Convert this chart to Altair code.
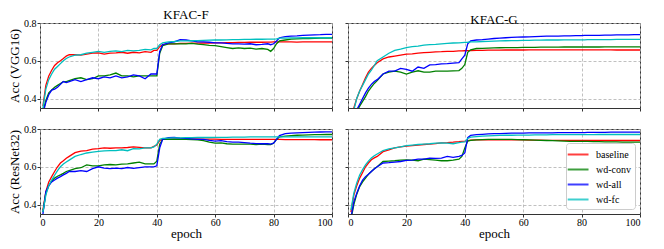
import altair as alt
import pandas as pd

# shared epoch grid
epochs = ([1, 2, 3, 4, 5, 6, 7, 8, 9, 10]
          + [12, 14, 16, 18, 20, 22, 24, 26, 28, 30, 32, 34, 36, 38]
          + [39, 40, 41]
          + [42, 44, 46, 48, 50, 52, 54, 56, 58, 60, 62, 64, 66, 68, 70, 72, 74, 76, 78]
          + [79, 80, 81]
          + [82, 84, 86, 88, 90, 92, 94, 96, 98, 100])

series_names = ["baseline", "wd-conv", "wd-all", "wd-fc"]
series_colors = ["#ff0000", "#008000", "#0000ff", "#00bfbf"]
x_ticks = [0, 20, 40, 60, 80, 100]
y_ticks = [0.4, 0.6, 0.8]

# ---- KFAC-F / VGG16 ----
f_vgg_baseline = ([0.36, 0.47, 0.52, 0.55, 0.575, 0.59, 0.60, 0.612, 0.625, 0.632]
                  + [0.632, 0.63, 0.635, 0.64, 0.642, 0.635, 0.64, 0.642, 0.645, 0.64, 0.645, 0.642, 0.648, 0.645]
                  + [0.655, 0.655, 0.675]
                  + [0.685, 0.69, 0.69, 0.692, 0.692, 0.693, 0.693, 0.694, 0.694, 0.695, 0.695, 0.696, 0.696, 0.697, 0.697, 0.698, 0.698, 0.698, 0.699]
                  + [0.699, 0.70, 0.70]
                  + [0.70, 0.70, 0.70, 0.699, 0.70, 0.70, 0.70, 0.70, 0.70, 0.70])
f_vgg_conv = ([0.33, 0.39, 0.43, 0.445, 0.46, 0.47, 0.48, 0.49, 0.49, 0.495]
              + [0.505, 0.51, 0.50, 0.505, 0.52, 0.52, 0.525, 0.535, 0.52, 0.52, 0.515, 0.52, 0.52, 0.52]
              + [0.52, 0.52, 0.64]
              + [0.68, 0.69, 0.69, 0.69, 0.69, 0.692, 0.688, 0.685, 0.682, 0.68, 0.675, 0.67, 0.665, 0.668, 0.665, 0.667, 0.662, 0.665, 0.66]
              + [0.65, 0.665, 0.69]
              + [0.705, 0.71, 0.715, 0.716, 0.717, 0.718, 0.719, 0.72, 0.72, 0.72])
f_vgg_all = ([0.32, 0.38, 0.42, 0.445, 0.45, 0.46, 0.475, 0.49, 0.485, 0.49]
             + [0.50, 0.49, 0.50, 0.51, 0.505, 0.515, 0.51, 0.52, 0.51, 0.515, 0.525, 0.52, 0.505, 0.53]
             + [0.53, 0.53, 0.65]
             + [0.685, 0.695, 0.70, 0.712, 0.71, 0.705, 0.70, 0.70, 0.698, 0.695, 0.695, 0.692, 0.69, 0.69, 0.688, 0.69, 0.685, 0.687, 0.69]
             + [0.685, 0.69, 0.705]
             + [0.722, 0.728, 0.73, 0.732, 0.735, 0.736, 0.737, 0.738, 0.74, 0.74])
f_vgg_fc = ([0.35, 0.45, 0.50, 0.53, 0.555, 0.57, 0.585, 0.60, 0.612, 0.62]
            + [0.63, 0.632, 0.64, 0.645, 0.65, 0.645, 0.65, 0.652, 0.648, 0.655, 0.652, 0.655, 0.66, 0.658]
            + [0.665, 0.665, 0.685]
            + [0.695, 0.70, 0.702, 0.705, 0.705, 0.706, 0.707, 0.708, 0.709, 0.71, 0.71, 0.711, 0.712, 0.712, 0.713, 0.713, 0.714, 0.714, 0.715]
            + [0.715, 0.715, 0.716]
            + [0.72, 0.72, 0.721, 0.721, 0.722, 0.722, 0.722, 0.722, 0.722, 0.722])

# ---- KFAC-G / VGG16 ----
g_vgg_baseline = ([0.30, 0.35, 0.40, 0.44, 0.475, 0.51, 0.54, 0.56, 0.575, 0.59]
                  + [0.61, 0.62, 0.625, 0.63, 0.635, 0.637, 0.64, 0.643, 0.645, 0.647, 0.648, 0.65, 0.65, 0.652]
                  + [0.652, 0.653, 0.654]
                  + [0.654, 0.655, 0.655, 0.656, 0.656, 0.656, 0.657, 0.657, 0.657, 0.657, 0.658, 0.658, 0.658, 0.658, 0.658, 0.658, 0.658, 0.658, 0.658]
                  + [0.658, 0.658, 0.658]
                  + [0.658, 0.658, 0.658, 0.658, 0.658, 0.657, 0.657, 0.657, 0.657, 0.657])
g_vgg_conv = ([0.27, 0.30, 0.33, 0.36, 0.385, 0.41, 0.44, 0.46, 0.48, 0.495]
              + [0.53, 0.54, 0.545, 0.54, 0.53, 0.54, 0.547, 0.54, 0.54, 0.545, 0.545, 0.545, 0.547, 0.548]
              + [0.56, 0.58, 0.645]
              + [0.658, 0.665, 0.666, 0.667, 0.668, 0.669, 0.67, 0.67, 0.67, 0.671, 0.671, 0.671, 0.672, 0.672, 0.672, 0.672, 0.673, 0.673, 0.673]
              + [0.673, 0.673, 0.673]
              + [0.673, 0.673, 0.673, 0.674, 0.674, 0.674, 0.674, 0.674, 0.674, 0.674])
g_vgg_all = ([0.28, 0.31, 0.34, 0.37, 0.40, 0.43, 0.455, 0.475, 0.49, 0.50]
             + [0.53, 0.545, 0.545, 0.56, 0.555, 0.545, 0.567, 0.56, 0.578, 0.58, 0.584, 0.585, 0.588, 0.59]
             + [0.61, 0.63, 0.69]
             + [0.705, 0.71, 0.712, 0.715, 0.718, 0.72, 0.722, 0.724, 0.725, 0.726, 0.727, 0.728, 0.729, 0.73, 0.73, 0.731, 0.732, 0.732, 0.733]
             + [0.733, 0.733, 0.734]
             + [0.734, 0.735, 0.735, 0.736, 0.736, 0.737, 0.737, 0.737, 0.738, 0.738])
g_vgg_fc = ([0.29, 0.34, 0.40, 0.44, 0.47, 0.50, 0.53, 0.55, 0.575, 0.60]
            + [0.62, 0.64, 0.655, 0.662, 0.67, 0.675, 0.678, 0.683, 0.685, 0.687, 0.69, 0.692, 0.694, 0.695]
            + [0.696, 0.697, 0.698]
            + [0.70, 0.70, 0.702, 0.703, 0.704, 0.705, 0.706, 0.707, 0.707, 0.708, 0.708, 0.709, 0.709, 0.71, 0.71, 0.71, 0.711, 0.711, 0.711]
            + [0.711, 0.711, 0.711]
            + [0.712, 0.712, 0.712, 0.712, 0.712, 0.713, 0.713, 0.713, 0.713, 0.713])

# ---- KFAC-F / ResNet32 ----
f_res_baseline = ([0.37, 0.468, 0.52, 0.548, 0.575, 0.60, 0.62, 0.632, 0.645, 0.655]
                  + [0.675, 0.683, 0.686, 0.693, 0.696, 0.70, 0.698, 0.70, 0.70, 0.702, 0.705, 0.703, 0.70, 0.70]
                  + [0.708, 0.715, 0.74]
                  + [0.745, 0.747, 0.748, 0.748, 0.748, 0.747, 0.747, 0.746, 0.746, 0.746, 0.745, 0.745, 0.745, 0.745, 0.745, 0.745, 0.745, 0.745, 0.745]
                  + [0.745, 0.745, 0.745]
                  + [0.745, 0.744, 0.744, 0.744, 0.744, 0.744, 0.744, 0.743, 0.743, 0.743])
f_res_conv = ([0.36, 0.46, 0.50, 0.525, 0.54, 0.55, 0.557, 0.565, 0.575, 0.58]
              + [0.59, 0.595, 0.61, 0.605, 0.605, 0.61, 0.612, 0.61, 0.614, 0.615, 0.62, 0.625, 0.615, 0.615]
              + [0.615, 0.63, 0.72]
              + [0.745, 0.745, 0.746, 0.745, 0.745, 0.744, 0.742, 0.738, 0.73, 0.725, 0.727, 0.722, 0.72, 0.72, 0.72, 0.72, 0.718, 0.72, 0.718]
              + [0.718, 0.725, 0.745]
              + [0.758, 0.762, 0.765, 0.767, 0.768, 0.769, 0.77, 0.77, 0.771, 0.771])
f_res_all = ([0.35, 0.468, 0.50, 0.52, 0.53, 0.54, 0.548, 0.557, 0.565, 0.575]
             + [0.575, 0.58, 0.575, 0.59, 0.60, 0.593, 0.59, 0.593, 0.59, 0.596, 0.592, 0.596, 0.60, 0.60]
             + [0.60, 0.605, 0.70]
             + [0.745, 0.754, 0.755, 0.752, 0.75, 0.748, 0.745, 0.745, 0.74, 0.736, 0.738, 0.733, 0.73, 0.73, 0.728, 0.725, 0.723, 0.722, 0.722]
             + [0.72, 0.725, 0.745]
             + [0.765, 0.775, 0.778, 0.78, 0.781, 0.782, 0.783, 0.784, 0.785, 0.785])
f_res_fc = ([0.36, 0.45, 0.50, 0.53, 0.555, 0.58, 0.60, 0.615, 0.625, 0.635]
            + [0.655, 0.665, 0.673, 0.678, 0.682, 0.684, 0.686, 0.686, 0.69, 0.685, 0.696, 0.695, 0.70, 0.70]
            + [0.705, 0.72, 0.745]
            + [0.75, 0.752, 0.753, 0.753, 0.754, 0.754, 0.755, 0.755, 0.755, 0.756, 0.756, 0.756, 0.757, 0.757, 0.757, 0.758, 0.758, 0.758, 0.758]
            + [0.758, 0.758, 0.758]
            + [0.758, 0.758, 0.758, 0.758, 0.758, 0.758, 0.758, 0.758, 0.758, 0.758])

# ---- KFAC-G / ResNet32 ----
g_res_baseline = ([0.36, 0.45, 0.50, 0.54, 0.57, 0.60, 0.62, 0.637, 0.647, 0.655]
                  + [0.68, 0.69, 0.70, 0.705, 0.709, 0.712, 0.715, 0.718, 0.72, 0.723, 0.727, 0.728, 0.73, 0.733]
                  + [0.735, 0.736, 0.738]
                  + [0.741, 0.742, 0.742, 0.743, 0.743, 0.743, 0.743, 0.742, 0.742, 0.742, 0.741, 0.741, 0.741, 0.74, 0.74, 0.74, 0.74, 0.74, 0.74]
                  + [0.74, 0.74, 0.74]
                  + [0.74, 0.739, 0.739, 0.739, 0.739, 0.739, 0.739, 0.739, 0.739, 0.739])
g_res_conv = ([0.32, 0.40, 0.455, 0.495, 0.52, 0.54, 0.56, 0.575, 0.59, 0.60]
              + [0.628, 0.63, 0.632, 0.635, 0.637, 0.635, 0.632, 0.64, 0.638, 0.635, 0.632, 0.632, 0.635, 0.64]
              + [0.655, 0.70, 0.736]
              + [0.74, 0.742, 0.744, 0.745, 0.745, 0.745, 0.745, 0.745, 0.744, 0.743, 0.742, 0.741, 0.74, 0.739, 0.738, 0.737, 0.736, 0.735, 0.735]
              + [0.734, 0.734, 0.734]
              + [0.734, 0.733, 0.733, 0.732, 0.732, 0.732, 0.731, 0.731, 0.731, 0.73])
g_res_all = ([0.33, 0.414, 0.46, 0.50, 0.53, 0.548, 0.56, 0.575, 0.588, 0.60]
             + [0.62, 0.622, 0.625, 0.628, 0.634, 0.635, 0.64, 0.64, 0.646, 0.645, 0.646, 0.655, 0.65, 0.655]
             + [0.66, 0.673, 0.754]
             + [0.766, 0.77, 0.772, 0.774, 0.775, 0.776, 0.777, 0.778, 0.778, 0.778, 0.779, 0.779, 0.78, 0.78, 0.78, 0.781, 0.781, 0.781, 0.781]
             + [0.781, 0.781, 0.781]
             + [0.782, 0.782, 0.782, 0.782, 0.783, 0.783, 0.783, 0.783, 0.783, 0.783])
g_res_fc = ([0.37, 0.46, 0.515, 0.557, 0.585, 0.61, 0.63, 0.646, 0.658, 0.668]
            + [0.686, 0.695, 0.70, 0.705, 0.712, 0.715, 0.718, 0.72, 0.722, 0.725, 0.727, 0.725, 0.722, 0.728]
            + [0.73, 0.732, 0.75]
            + [0.757, 0.76, 0.762, 0.764, 0.765, 0.766, 0.767, 0.767, 0.768, 0.768, 0.768, 0.769, 0.769, 0.769, 0.77, 0.77, 0.77, 0.77, 0.77]
            + [0.77, 0.77, 0.77]
            + [0.77, 0.77, 0.771, 0.771, 0.771, 0.771, 0.771, 0.771, 0.771, 0.771])

FONT = "Liberation Serif, Times New Roman, serif"


def make_df(series_lists):
    rows = []
    for name, vals in zip(series_names, series_lists):
        for e, v in zip(epochs, vals):
            rows.append({"epoch": e, "acc": v, "series": name})
    return pd.DataFrame(rows)


def panel(series_lists, title, ytitle, bottom, left, legend):
    df = make_df(series_lists)
    x_axis = alt.Axis(values=x_ticks, labels=bottom, title="epoch" if bottom else None,
                      grid=True)
    y_axis = alt.Axis(values=y_ticks, format=".1f", labels=left,
                      title=ytitle if left else None, grid=True)
    if legend:
        leg = alt.Legend(title=None, orient="bottom-right", offset=5,
                         symbolType="M-1.6,0H1.8", symbolStrokeWidth=2, symbolSize=150,
                         symbolOpacity=0.75, labelOffset=11,
                         labelFont=FONT, labelFontSize=10, labelFontWeight="normal",
                         labelColor="#000",
                         fillColor="white", strokeColor="#cccccc", padding=4,
                         rowPadding=2, cornerRadius=3)
    else:
        leg = None
    color = alt.Color("series:N", scale=alt.Scale(domain=series_names, range=series_colors),
                      sort=series_names, legend=leg)
    ch = alt.Chart(df).mark_line(strokeWidth=1.3, clip=True).encode(
        x=alt.X("epoch:Q", scale=alt.Scale(domain=[0, 100], nice=False, zero=False), axis=x_axis),
        y=alt.Y("acc:Q", scale=alt.Scale(domain=[0.35, 0.8], nice=False, zero=False), axis=y_axis),
        color=color,
    )
    if title:
        ch = ch.properties(width=292, height=85,
                           title=alt.TitleParams(title, font=FONT, fontSize=13, fontWeight="normal",
                                                 color="#000", offset=-4))
    else:
        ch = ch.properties(width=292, height=85)
    return ch


p1 = panel([f_vgg_baseline, f_vgg_conv, f_vgg_all, f_vgg_fc], "KFAC-F", "Acc (VGG16)", False, True, False)
p2 = panel([g_vgg_baseline, g_vgg_conv, g_vgg_all, g_vgg_fc], "KFAC-G", "", False, False, False)
p3 = panel([f_res_baseline, f_res_conv, f_res_all, f_res_fc], "", "Acc (ResNet32)", True, True, False)
p4 = panel([g_res_baseline, g_res_conv, g_res_all, g_res_fc], "", "", True, False, True)

chart = alt.concat(p1, p2, p3, p4, columns=2, spacing=11, align="each").resolve_legend(
    color="independent"
).properties(
    padding={"left": 0, "top": 0, "right": 5, "bottom": 0}
).configure(
    font=FONT
).configure_view(
    stroke="#333333", strokeWidth=1
).configure_legend(
    labelFont=FONT, labelFontWeight="normal"
).configure_axis(
    domain=False, tickSize=3, tickColor="#333333", tickWidth=1,
    gridColor="#b0b0b0", gridDash=[3, 2], gridWidth=0.8,
    labelFont=FONT, labelFontSize=10, labelColor="#000",
    titleFont=FONT, titleFontSize=13, titleFontWeight="normal", titleColor="#000",
).configure_axisX(
    labelPadding=0, titlePadding=0
).configure_axisY(
    labelPadding=1, titlePadding=2
)

chart.save("out.html", embed_options={"renderer": "svg", "actions": False})
